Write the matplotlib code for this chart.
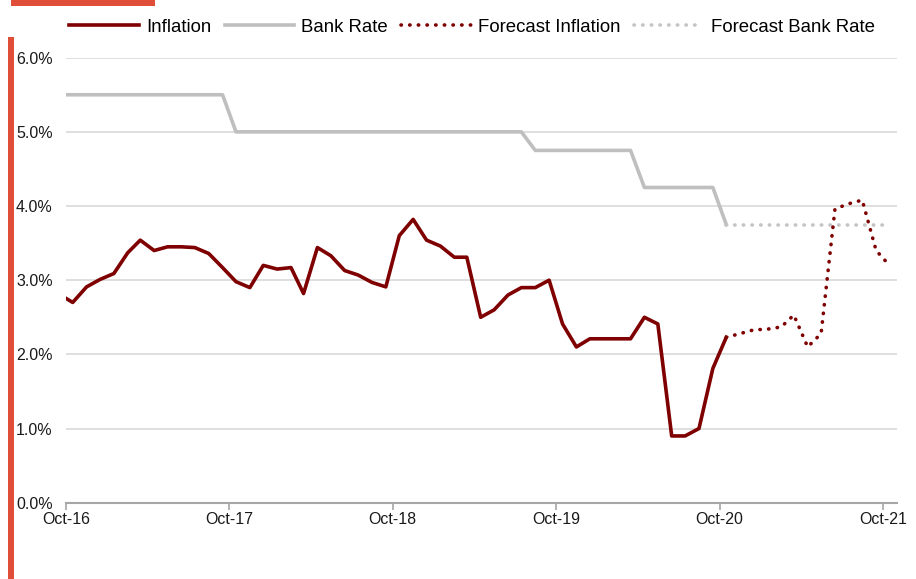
import matplotlib
matplotlib.use("Agg")
import matplotlib.pyplot as plt
import matplotlib.dates as mdates
from matplotlib.patches import Rectangle
import pandas as pd

plt.rcParams["font.family"] = ["Liberation Sans", "DejaVu Sans"]

# monthly data, Sep-16 .. Oct-20 (actual) and Oct-20 .. Oct-21 (forecast)
actual_months = pd.date_range("2016-09-01", "2020-10-01", freq="MS")
forecast_months = pd.date_range("2020-10-01", "2021-10-01", freq="MS")

inflation = [
    2.81, 2.70, 2.91, 3.01, 3.09, 3.37, 3.54, 3.40, 3.45, 3.45, 3.44, 3.36, 3.17,
    2.98, 2.90, 3.20, 3.15, 3.17, 2.82, 3.44, 3.33, 3.13, 3.07, 2.97, 2.91,
    3.60, 3.82, 3.54, 3.46, 3.31, 3.31, 2.50, 2.60, 2.80, 2.90, 2.90, 3.00,
    2.41, 2.10, 2.21, 2.21, 2.21, 2.21, 2.50, 2.41, 0.90, 0.90, 1.00, 1.81, 2.23,
]
bank_rate = [
    5.50, 5.50, 5.50, 5.50, 5.50, 5.50, 5.50, 5.50, 5.50, 5.50, 5.50, 5.50, 5.50,
    5.00, 5.00, 5.00, 5.00, 5.00, 5.00, 5.00, 5.00, 5.00, 5.00, 5.00, 5.00,
    5.00, 5.00, 5.00, 5.00, 5.00, 5.00, 5.00, 5.00, 5.00, 5.00, 4.75, 4.75,
    4.75, 4.75, 4.75, 4.75, 4.75, 4.75, 4.25, 4.25, 4.25, 4.25, 4.25, 4.25, 3.75,
]
forecast_inflation = [2.23, 2.28, 2.33, 2.34, 2.37, 2.53, 2.10, 2.28, 3.96, 4.03, 4.08, 3.40, 3.20]
forecast_bank_rate = [3.75, 3.75, 3.75, 3.75, 3.75, 3.75, 3.75, 3.75, 3.75, 3.75, 3.75, 3.75, 3.75]

y_ticks = [0, 1, 2, 3, 4, 5, 6]

RED = "#7F0000"
GREY = "#BFBFBF"
ACCENT = "#E04E39"

W, H = 916, 579
fig = plt.figure(figsize=(W / 100, H / 100), dpi=100)
ax = fig.add_axes([66 / W, 1 - 502.7 / H, (896.7 - 66) / W, (502.7 - 57.7) / H])

# points sit mid-month, ticks on the 1st
x_act = actual_months + pd.Timedelta(days=15)
x_fc = forecast_months + pd.Timedelta(days=15)

dots = (0, (0.1, 2.3))
ax.plot(x_act, bank_rate, color=GREY, lw=2.6, label="Bank Rate", zorder=3)
ax.plot(x_act, inflation, color=RED, lw=2.6, label="Inflation", zorder=4)
ax.plot(x_fc, forecast_inflation, color=RED, lw=2.6, linestyle=dots,
        dash_capstyle="round", label="Forecast Inflation", zorder=4)
ax.plot(x_fc, forecast_bank_rate, color="#C4C4C4", lw=2.6, linestyle=dots,
        dash_capstyle="round", label="Forecast Bank Rate", zorder=3)

ax.set_xlim(pd.Timestamp("2016-10-01"), pd.Timestamp("2021-11-01"))
ax.set_ylim(0, 6)
ax.xaxis.set_major_locator(mdates.MonthLocator(bymonth=10))
ax.xaxis.set_major_formatter(mdates.DateFormatter("%b-%y"))
ax.set_yticks(y_ticks)
ax.set_yticklabels([f"{v:.1f}%" for v in y_ticks])

ax.grid(axis="y", color="#D9D9D9", lw=1.2, zorder=0)
for side in ("top", "right", "left"):
    ax.spines[side].set_visible(False)
ax.spines["bottom"].set_color("#A6A6A6")
ax.spines["bottom"].set_linewidth(1.5)
ax.tick_params(axis="x", colors="#A6A6A6", length=5, width=1.2, labelcolor="#1A1A1A",
               labelsize=11.5, pad=1.5)
ax.tick_params(axis="y", length=0, labelsize=11.5, labelcolor="#1A1A1A", pad=36)
for lbl in ax.get_yticklabels():
    lbl.set_ha("left")

handles, labels = ax.get_legend_handles_labels()
order = [1, 0, 2, 3]
fig.legend([handles[i] for i in order], [labels[i] for i in order],
           loc="center", bbox_to_anchor=(472 / W, 1 - 27 / H), ncol=4,
           frameon=False, fontsize=13.4, handlelength=3.75, handletextpad=0.38,
           columnspacing=0.7)

# decorative accent bars
fig.add_artist(Rectangle((11 / W, 1 - 6 / H), 144 / W, 6 / H, transform=fig.transFigure,
                         color=ACCENT, lw=0))
fig.add_artist(Rectangle((8 / W, 0), 6 / W, 1 - 37 / H, transform=fig.transFigure,
                         color=ACCENT, lw=0))

fig.savefig("out.png", dpi=100)
